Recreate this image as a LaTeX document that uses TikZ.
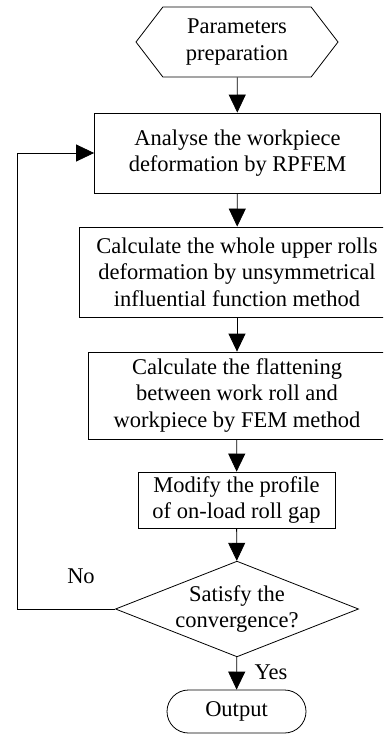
\documentclass[tikz,border=0pt]{standalone}
\usepackage{fontspec}
\setmainfont{Liberation Serif}
\usetikzlibrary{arrows.meta,shapes.geometric,shapes.misc,shapes.symbols}

\tikzset{
  box/.style={draw, rectangle, line width=0.8pt, align=center, inner sep=0pt},
  flow/.style={line width=0.8pt, -{Triangle[length=18pt,width=17pt]}},
  lbl/.style={inner sep=0pt}
}

\begin{document}
\begin{tikzpicture}[x=1pt, y=-1pt, font=\fontsize{22.5}{26.5}\selectfont]
    \useasboundingbox (0,0) rectangle (383,735);
    \clip (0,0) rectangle (383,735);

    % start
    \node[draw, line width=0.8pt, signal, signal to=west and east, signal pointer angle=105,
          minimum width=202pt, minimum height=70pt, align=center, inner sep=0pt]
          (prep) at (237,42) {Parameters\\preparation};

    % steps
    \node[box, minimum width=286pt, minimum height=80pt] (fem) at (237.5,153)
        {Analyse the workpiece\\deformation by RPFEM};
    \node[box, minimum width=316pt, minimum height=90pt] (rolls) at (237,272)
        {Calculate the whole upper rolls\\deformation by unsymmetrical\\influential function method};
    \node[box, minimum width=298pt, minimum height=87pt] (flat) at (237,395.5)
        {Calculate the flattening\\between work roll and\\workpiece by FEM method};
    \node[box, minimum width=197pt, minimum height=56pt] (gap) at (236.5,500)
        {Modify the profile\\of on-load roll gap};

    % check
    \node[draw, diamond, line width=0.8pt, aspect=2.54, minimum width=241pt, minimum height=95pt,
          align=center, inner sep=0pt] (conv) at (237,609) {Satisfy the\\convergence?};

    % end
    \node[draw, rounded rectangle, line width=0.8pt, minimum width=139pt, minimum height=43pt,
          inner sep=0pt] (out) at (236.5,711.5) {Output};

    % arrows
    \draw[flow] (prep) -- (fem);
    \draw[flow] (fem) -- (rolls);
    \draw[flow] (rolls) -- (flat);
    \draw[flow] (flat) -- (gap);
    \draw[flow] (gap) -- (conv);
    \draw[flow] (conv) -- (out);

    % loop back
    \coordinate (back) at (17,609);
    \draw[flow] (conv.west) -- (back) |- (fem.west);

    \node[lbl] (no) at (81,576) {No};
    \node[lbl] (yes) at (271,672) {Yes};

\end{tikzpicture}
\end{document}
